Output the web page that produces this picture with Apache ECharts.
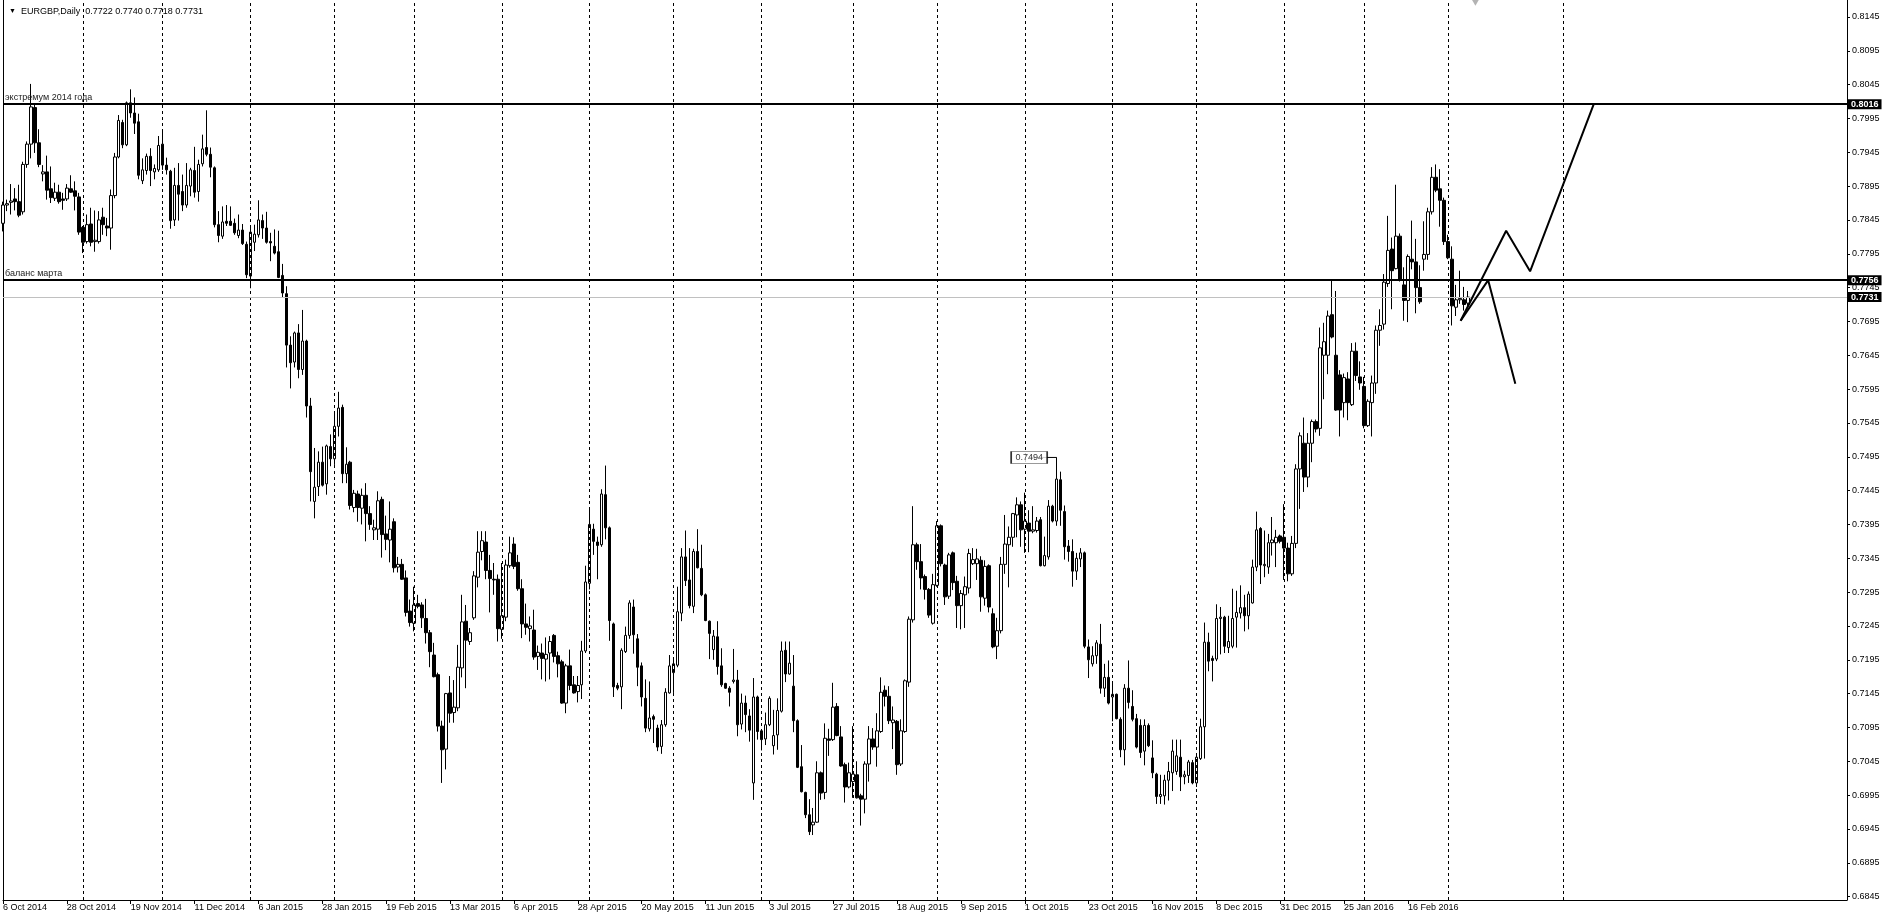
<!DOCTYPE html>
<html><head><meta charset="utf-8">
<script src="https://cdn.jsdelivr.net/npm/echarts@6/dist/echarts.min.js"></script>
<style>html,body{margin:0;padding:0;background:#fff}#c{width:1888px;height:921px}</style>
</head><body><div id="c"></div><script>
// ---- data ----
const startDate = [2014, 9, 6]; // 6 Oct 2014 (first bar)
const holidays = ['2014-12-25','2015-01-01','2015-12-25','2016-01-01'];
const barCount = 368;
const slotCount = 463;
const open = [
0.7840,0.7867,0.7871,0.7876,0.7872,0.7857,0.7927,0.7957,0.8011,0.7959,
0.7913,0.7916,0.7891,0.7877,0.7886,0.7876,0.7876,0.7891,0.7888,0.7879,
0.7834,0.7813,0.7839,0.7813,0.7813,0.7849,0.7836,0.7833,0.7881,0.7938,
0.7989,0.7956,0.8018,0.8003,0.7990,0.7903,0.7918,0.7939,0.7916,0.7919,
0.7957,0.7926,0.7917,0.7845,0.7896,0.7887,0.7867,0.7895,0.7918,0.7887,
0.7928,0.7952,0.7942,0.7922,0.7838,0.7821,0.7843,0.7843,0.7840,0.7822,
0.7830,0.7809,0.7762,0.7812,0.7823,0.7844,0.7833,0.7813,0.7806,0.7798,
0.7763,0.7736,0.7660,0.7635,0.7678,0.7624,0.7666,0.7570,0.7429,0.7451,
0.7487,0.7455,0.7510,0.7492,0.7540,0.7568,0.7470,0.7487,0.7420,0.7440,
0.7419,0.7438,0.7411,0.7387,0.7388,0.7432,0.7381,0.7372,0.7399,0.7332,
0.7336,0.7316,0.7267,0.7249,0.7278,0.7276,0.7256,0.7235,0.7202,0.7173,
0.7097,0.7063,0.7146,0.7117,0.7124,0.7183,0.7252,0.7222,0.7257,0.7317,
0.7355,0.7369,0.7327,0.7314,0.7314,0.7240,0.7258,0.7334,0.7366,0.7339,
0.7300,0.7248,0.7241,0.7239,0.7200,0.7205,0.7196,0.7205,0.7231,0.7201,
0.7192,0.7131,0.7186,0.7158,0.7148,0.7158,0.7208,0.7308,0.7388,0.7369,
0.7365,0.7439,0.7390,0.7248,0.7157,0.7155,0.7207,0.7231,0.7273,0.7226,
0.7186,0.7138,0.7093,0.7111,0.7094,0.7067,0.7099,0.7146,0.7176,0.7187,
0.7264,0.7347,0.7313,0.7274,0.7355,0.7330,0.7291,0.7252,0.7210,0.7229,
0.7186,0.7160,0.7153,0.7163,0.7165,0.7100,0.7131,0.7112,0.7013,0.7140,
0.7090,0.7078,0.7099,0.7068,0.7084,0.7119,0.7209,0.7174,0.7156,0.7105,
0.7037,0.6999,0.6966,0.6951,0.6955,0.7028,0.6999,0.7078,0.7077,0.7126,
0.7081,0.7040,0.7007,0.7015,0.7025,0.6994,0.6989,0.7041,0.7078,0.7066,
0.7089,0.7150,0.7141,0.7102,0.7104,0.7041,0.7089,0.7162,0.7254,0.7365,
0.7340,0.7318,0.7299,0.7249,0.7305,0.7393,0.7335,0.7289,0.7353,0.7311,
0.7275,0.7291,0.7301,0.7337,0.7337,0.7342,0.7286,0.7334,0.7263,0.7215,
0.7238,0.7336,0.7365,0.7376,0.7409,0.7424,0.7388,0.7397,0.7385,0.7386,
0.7402,0.7334,0.7347,0.7422,0.7400,0.7461,0.7414,0.7363,0.7355,0.7326,
0.7344,0.7353,0.7214,0.7189,0.7201,0.7218,0.7153,0.7169,0.7140,0.7144,
0.7107,0.7062,0.7153,0.7126,0.7108,0.7098,0.7060,0.7098,0.7050,0.7026,
0.6993,0.6994,0.7017,0.7028,0.7030,0.7051,0.7022,0.7024,0.7043,0.7013,
0.7049,0.7096,0.7221,0.7197,0.7196,0.7256,0.7258,0.7213,0.7215,0.7258,
0.7264,0.7272,0.7260,0.7279,0.7332,0.7389,0.7334,0.7332,0.7368,0.7368,
0.7378,0.7376,0.7360,0.7322,0.7367,0.7477,0.7515,0.7465,0.7515,0.7547,
0.7537,0.7645,0.7645,0.7705,0.7645,0.7616,0.7575,0.7610,0.7572,0.7651,
0.7613,0.7599,0.7541,0.7575,0.7604,0.7682,0.7691,0.7751,0.7802,0.7773,
0.7821,0.7749,0.7726,0.7787,0.7783,0.7745,0.7787,0.7794,0.7857,0.7908,
0.7891,0.7874,0.7813,0.7787,0.7716,0.7727,0.7727,0.7722];
const high = [
0.7872,0.7875,0.7898,0.7892,0.7897,0.7931,0.7961,0.8046,0.8016,0.7979,
0.7926,0.7940,0.7924,0.7900,0.7897,0.7885,0.7898,0.7911,0.7902,0.7885,
0.7836,0.7853,0.7863,0.7859,0.7858,0.7863,0.7848,0.7890,0.7944,0.8000,
0.7993,0.8020,0.8038,0.8026,0.8002,0.7936,0.7943,0.7951,0.7927,0.7969,
0.7976,0.7937,0.7919,0.7922,0.7929,0.7912,0.7929,0.7922,0.7953,0.7934,
0.7971,0.8007,0.7952,0.7924,0.7858,0.7865,0.7867,0.7865,0.7847,0.7853,
0.7839,0.7813,0.7834,0.7838,0.7874,0.7853,0.7857,0.7826,0.7831,0.7829,
0.7780,0.7747,0.7673,0.7680,0.7691,0.7712,0.7668,0.7582,0.7508,0.7503,
0.7510,0.7513,0.7528,0.7562,0.7591,0.7572,0.7509,0.7489,0.7446,0.7445,
0.7448,0.7456,0.7422,0.7402,0.7444,0.7436,0.7408,0.7429,0.7404,0.7347,
0.7344,0.7327,0.7284,0.7303,0.7291,0.7280,0.7285,0.7239,0.7220,0.7176,
0.7105,0.7146,0.7171,0.7165,0.7217,0.7291,0.7276,0.7242,0.7326,0.7385,
0.7385,0.7385,0.7350,0.7338,0.7321,0.7338,0.7343,0.7377,0.7376,0.7350,
0.7314,0.7278,0.7259,0.7269,0.7216,0.7219,0.7228,0.7230,0.7233,0.7207,
0.7195,0.7189,0.7210,0.7171,0.7171,0.7223,0.7334,0.7418,0.7396,0.7377,
0.7447,0.7482,0.7392,0.7250,0.7161,0.7212,0.7244,0.7283,0.7284,0.7233,
0.7191,0.7166,0.7163,0.7114,0.7099,0.7106,0.7153,0.7202,0.7198,0.7303,
0.7360,0.7386,0.7360,0.7359,0.7388,0.7365,0.7293,0.7253,0.7239,0.7252,
0.7212,0.7161,0.7156,0.7211,0.7180,0.7145,0.7142,0.7122,0.7168,0.7142,
0.7092,0.7117,0.7141,0.7121,0.7138,0.7222,0.7222,0.7222,0.7202,0.7107,
0.7069,0.7000,0.6989,0.6976,0.7045,0.7030,0.7101,0.7093,0.7161,0.7131,
0.7097,0.7043,0.7043,0.7097,0.7045,0.6997,0.7045,0.7097,0.7094,0.7116,
0.7169,0.7157,0.7156,0.7126,0.7106,0.7107,0.7166,0.7259,0.7422,0.7368,
0.7366,0.7321,0.7301,0.7322,0.7400,0.7395,0.7337,0.7353,0.7355,0.7319,
0.7298,0.7318,0.7359,0.7360,0.7359,0.7348,0.7342,0.7336,0.7271,0.7257,
0.7347,0.7409,0.7392,0.7412,0.7435,0.7429,0.7442,0.7416,0.7422,0.7406,
0.7406,0.7377,0.7431,0.7424,0.7494,0.7473,0.7423,0.7372,0.7373,0.7353,
0.7360,0.7355,0.7225,0.7215,0.7224,0.7248,0.7189,0.7194,0.7161,0.7145,
0.7110,0.7159,0.7194,0.7150,0.7115,0.7107,0.7107,0.7101,0.7076,0.7028,
0.7025,0.7025,0.7044,0.7077,0.7077,0.7077,0.7031,0.7047,0.7047,0.7053,
0.7108,0.7250,0.7235,0.7201,0.7277,0.7273,0.7260,0.7260,0.7300,0.7297,
0.7305,0.7291,0.7296,0.7343,0.7414,0.7391,0.7386,0.7381,0.7406,0.7387,
0.7380,0.7425,0.7368,0.7378,0.7484,0.7531,0.7553,0.7530,0.7550,0.7550,
0.7686,0.7693,0.7711,0.7756,0.7740,0.7623,0.7618,0.7620,0.7663,0.7664,
0.7636,0.7613,0.7580,0.7615,0.7689,0.7713,0.7765,0.7851,0.7819,0.7897,
0.7825,0.7775,0.7794,0.7844,0.7817,0.7778,0.7843,0.7863,0.7923,0.7927,
0.7920,0.7878,0.7823,0.7806,0.7749,0.7770,0.7746,0.7740];
const low = [
0.7828,0.7858,0.7853,0.7859,0.7849,0.7853,0.7922,0.7936,0.7944,0.7923,
0.7902,0.7875,0.7870,0.7873,0.7869,0.7860,0.7873,0.7885,0.7859,0.7823,
0.7796,0.7810,0.7806,0.7798,0.7810,0.7823,0.7821,0.7801,0.7877,0.7936,
0.7951,0.7954,0.7996,0.7972,0.7905,0.7898,0.7912,0.7895,0.7905,0.7916,
0.7919,0.7912,0.7832,0.7836,0.7844,0.7858,0.7863,0.7880,0.7878,0.7872,
0.7924,0.7939,0.7908,0.7834,0.7812,0.7817,0.7836,0.7836,0.7823,0.7818,
0.7808,0.7759,0.7744,0.7799,0.7819,0.7817,0.7810,0.7784,0.7794,0.7759,
0.7731,0.7627,0.7596,0.7627,0.7611,0.7616,0.7553,0.7429,0.7404,0.7437,
0.7451,0.7439,0.7481,0.7483,0.7525,0.7456,0.7456,0.7417,0.7413,0.7399,
0.7395,0.7370,0.7387,0.7372,0.7372,0.7346,0.7357,0.7339,0.7324,0.7324,
0.7313,0.7259,0.7244,0.7237,0.7271,0.7242,0.7219,0.7184,0.7169,0.7089,
0.7013,0.7033,0.7102,0.7102,0.7119,0.7169,0.7153,0.7217,0.7254,0.7302,
0.7342,0.7314,0.7265,0.7291,0.7222,0.7226,0.7252,0.7331,0.7329,0.7297,
0.7227,0.7232,0.7222,0.7195,0.7180,0.7166,0.7163,0.7166,0.7191,0.7169,
0.7130,0.7116,0.7150,0.7145,0.7132,0.7137,0.7205,0.7299,0.7350,0.7314,
0.7362,0.7373,0.7223,0.7140,0.7150,0.7122,0.7205,0.7226,0.7204,0.7156,
0.7126,0.7088,0.7089,0.7072,0.7060,0.7056,0.7096,0.7145,0.7146,0.7184,
0.7252,0.7304,0.7271,0.7264,0.7330,0.7289,0.7252,0.7196,0.7195,0.7173,
0.7155,0.7152,0.7126,0.7160,0.7082,0.7092,0.7088,0.7074,0.6988,0.7077,
0.7061,0.7069,0.7097,0.7055,0.7062,0.7117,0.7162,0.7173,0.7088,0.7035,
0.6999,0.6961,0.6936,0.6936,0.6954,0.6988,0.6989,0.7053,0.7075,0.7082,
0.7037,0.6984,0.7005,0.6991,0.6990,0.6950,0.6968,0.7015,0.7062,0.7037,
0.7087,0.7126,0.7100,0.7063,0.7025,0.7038,0.7087,0.7155,0.7250,0.7328,
0.7299,0.7284,0.7257,0.7247,0.7303,0.7333,0.7276,0.7285,0.7298,0.7242,
0.7240,0.7242,0.7293,0.7335,0.7313,0.7266,0.7275,0.7265,0.7212,0.7196,
0.7234,0.7322,0.7302,0.7362,0.7376,0.7362,0.7353,0.7354,0.7382,0.7383,
0.7333,0.7333,0.7343,0.7398,0.7393,0.7393,0.7343,0.7340,0.7303,0.7313,
0.7332,0.7212,0.7168,0.7185,0.7189,0.7145,0.7140,0.7129,0.7104,0.7107,
0.7051,0.7039,0.7123,0.7104,0.7064,0.7050,0.7039,0.7066,0.7020,0.6982,
0.6982,0.6981,0.6987,0.7001,0.7025,0.7001,0.7011,0.7013,0.7011,0.7007,
0.7047,0.7049,0.7178,0.7163,0.7193,0.7203,0.7205,0.7205,0.7212,0.7213,
0.7256,0.7237,0.7240,0.7278,0.7326,0.7307,0.7317,0.7322,0.7349,0.7332,
0.7367,0.7313,0.7311,0.7319,0.7360,0.7418,0.7443,0.7450,0.7487,0.7531,
0.7526,0.7580,0.7617,0.7670,0.7563,0.7525,0.7553,0.7549,0.7570,0.7607,
0.7594,0.7537,0.7539,0.7525,0.7588,0.7659,0.7683,0.7746,0.7713,0.7772,
0.7754,0.7696,0.7694,0.7772,0.7707,0.7721,0.7770,0.7786,0.7853,0.7886,
0.7835,0.7808,0.7787,0.7689,0.7703,0.7721,0.7711,0.7718];
const close = [
0.7867,0.7869,0.7873,0.7872,0.7852,0.7927,0.7957,0.8012,0.7959,0.7927,
0.7916,0.7889,0.7878,0.7886,0.7872,0.7874,0.7892,0.7886,0.7880,0.7827,
0.7812,0.7838,0.7812,0.7815,0.7845,0.7838,0.7833,0.7881,0.7938,0.7992,
0.7956,0.8018,0.8003,0.7988,0.7911,0.7919,0.7939,0.7918,0.7921,0.7955,
0.7926,0.7919,0.7844,0.7896,0.7883,0.7867,0.7896,0.7919,0.7886,0.7927,
0.7950,0.7942,0.7923,0.7838,0.7822,0.7842,0.7840,0.7837,0.7826,0.7830,
0.7810,0.7764,0.7827,0.7824,0.7845,0.7833,0.7812,0.7811,0.7796,0.7760,
0.7737,0.7660,0.7634,0.7678,0.7624,0.7666,0.7570,0.7473,0.7450,0.7487,
0.7453,0.7511,0.7492,0.7540,0.7567,0.7470,0.7484,0.7423,0.7441,0.7420,
0.7438,0.7411,0.7395,0.7390,0.7430,0.7380,0.7373,0.7388,0.7331,0.7336,
0.7314,0.7265,0.7250,0.7276,0.7274,0.7257,0.7235,0.7207,0.7170,0.7097,
0.7062,0.7145,0.7116,0.7125,0.7184,0.7251,0.7224,0.7235,0.7319,0.7354,
0.7371,0.7327,0.7315,0.7313,0.7241,0.7260,0.7335,0.7353,0.7333,0.7300,
0.7248,0.7243,0.7245,0.7199,0.7206,0.7197,0.7203,0.7222,0.7200,0.7189,
0.7131,0.7186,0.7157,0.7146,0.7157,0.7208,0.7310,0.7395,0.7370,0.7364,
0.7440,0.7390,0.7253,0.7155,0.7153,0.7209,0.7231,0.7279,0.7232,0.7184,
0.7140,0.7094,0.7109,0.7107,0.7066,0.7099,0.7147,0.7186,0.7189,0.7266,
0.7347,0.7312,0.7275,0.7355,0.7331,0.7291,0.7253,0.7234,0.7230,0.7185,
0.7158,0.7153,0.7147,0.7165,0.7099,0.7131,0.7114,0.7091,0.7140,0.7089,
0.7077,0.7099,0.7138,0.7083,0.7120,0.7208,0.7174,0.7190,0.7105,0.7036,
0.7000,0.6966,0.6941,0.6955,0.7028,0.6998,0.7079,0.7076,0.7125,0.7083,
0.7038,0.7007,0.7028,0.7026,0.6991,0.6989,0.7041,0.7078,0.7066,0.7090,
0.7147,0.7141,0.7105,0.7106,0.7040,0.7090,0.7164,0.7255,0.7365,0.7340,
0.7316,0.7299,0.7261,0.7306,0.7393,0.7337,0.7288,0.7350,0.7309,0.7275,
0.7293,0.7303,0.7352,0.7343,0.7344,0.7288,0.7333,0.7273,0.7214,0.7238,
0.7336,0.7366,0.7376,0.7411,0.7424,0.7387,0.7400,0.7385,0.7387,0.7400,
0.7334,0.7349,0.7422,0.7400,0.7462,0.7416,0.7362,0.7355,0.7326,0.7345,
0.7353,0.7215,0.7195,0.7201,0.7220,0.7153,0.7169,0.7131,0.7144,0.7108,
0.7062,0.7153,0.7132,0.7107,0.7066,0.7058,0.7098,0.7068,0.7028,0.6993,
0.6996,0.7017,0.7030,0.7060,0.7053,0.7022,0.7025,0.7044,0.7013,0.7051,
0.7096,0.7221,0.7193,0.7194,0.7256,0.7258,0.7215,0.7222,0.7256,0.7265,
0.7272,0.7260,0.7292,0.7332,0.7387,0.7335,0.7336,0.7368,0.7372,0.7376,
0.7370,0.7360,0.7322,0.7367,0.7477,0.7526,0.7465,0.7515,0.7547,0.7536,
0.7656,0.7665,0.7703,0.7672,0.7564,0.7564,0.7612,0.7575,0.7651,0.7615,
0.7604,0.7541,0.7577,0.7604,0.7682,0.7689,0.7753,0.7800,0.7770,0.7821,
0.7756,0.7726,0.7791,0.7783,0.7745,0.7724,0.7794,0.7857,0.7908,0.7889,
0.7874,0.7813,0.7789,0.7718,0.7727,0.7729,0.7720,0.7731];
const yTicks = [0.6845,0.6895,0.6945,0.6995,0.7045,0.7095,0.7145,0.7195,0.7245,0.7295,
  0.7345,0.7395,0.7445,0.7495,0.7545,0.7595,0.7645,0.7695,0.7745,0.7795,
  0.7845,0.7895,0.7945,0.7995,0.8045,0.8095,0.8145];
const levelValues = [0.8016, 0.7756];
const levelNames = ['экстремум 2014 года', 'баланс марта'];
const bidPrice = 0.7731;
const titleSymbol = 'EURGBP,Daily';
const titleValues = ['0.7722','0.7740','0.7718','0.7731'];
const scenarioUp = [[365.2,0.7696],[376.6,0.7829],[382.6,0.7769],[398.6,0.8017]];
const scenarioDown = [[365.2,0.7696],[372.1,0.7756],[378.9,0.7603]];
const priceTag = {x: 257.1, value: 0.7494, bar: 264};
const futureSeparatorIndex = 391;
const shiftMarker = [[368.9, 0.8166]];

// ---- categories (trading days) ----
const monthNames = ['Jan','Feb','Mar','Apr','May','Jun','Jul','Aug','Sep','Oct','Nov','Dec'];
const dates = [], monthKey = [];
{
  const d = new Date(Date.UTC(startDate[0], startDate[1], startDate[2]));
  while (dates.length < slotCount) {
    const wd = d.getUTCDay(), iso = d.toISOString().slice(0, 10);
    if (wd !== 0 && wd !== 6 && !holidays.includes(iso)) {
      dates.push(d.getUTCDate() + ' ' + monthNames[d.getUTCMonth()] + ' ' + d.getUTCFullYear());
      monthKey.push(d.getUTCFullYear() * 12 + d.getUTCMonth());
    }
    d.setUTCDate(d.getUTCDate() + 1);
  }
}
const separators = [];
for (let i = 1; i < barCount; i++) if (monthKey[i] !== monthKey[i - 1]) separators.push(i);
separators.push(futureSeparatorIndex);

const candleData = open.map((o, i) => [o, close[i], low[i], high[i]]);
const FONT = 'Liberation Sans, Arial, sans-serif';
const FS = 9;
const showLabel = (i) => i < barCount && i % 16 === 0;

const boxLabel = (txt) => ({
  show: true, position: 'end', formatter: txt, distance: 1,
  backgroundColor: '#000', color: '#fff', fontWeight: 'bold', fontSize: FS, fontFamily: FONT,
  padding: [1, 3, 0, 3]
});

const markData = [];
separators.forEach(i => markData.push({
  xAxis: i, lineStyle: {color: '#000', width: 1, type: [3, 3]}, label: {show: false}
}));
markData.push({yAxis: bidPrice, lineStyle: {color: '#c0c0c0', width: 1, type: 'solid'}, label: boxLabel(bidPrice.toFixed(4))});
levelValues.forEach((v, k) => {
  markData.push({yAxis: v, lineStyle: {color: '#000', width: 2, type: 'solid'},
    label: {show: true, position: 'insideStartTop', formatter: levelNames[k], distance: [2, 2],
      color: '#222', fontSize: FS, fontFamily: FONT}});
  markData.push({yAxis: v, lineStyle: {color: '#000', width: 2, type: 'solid'}, label: boxLabel(v.toFixed(4))});
});

const chart = echarts.init(document.getElementById('c'), null, {renderer: 'canvas'});
chart.setOption({
  animation: false,
  backgroundColor: '#fff',
  title: {
    text: '{t|▼}  ' + titleSymbol + '  ' + titleValues.join(' '),
    left: 4, top: 2,
    textStyle: {fontSize: FS, fontWeight: 'normal', color: '#000', fontFamily: FONT,
      rich: {t: {fontSize: 7, color: '#000', fontFamily: FONT}}}
  },
  grid: {left: 1, right: 41, top: 0, bottom: 21, containLabel: false},
  xAxis: [{
    type: 'category', data: dates, boundaryGap: false,
    axisLine: {show: true, onZero: false, lineStyle: {color: '#000', width: 1}},
    axisTick: {show: true, interval: showLabel, length: 4, lineStyle: {color: '#000'}},
    axisLabel: {interval: showLabel, align: 'left', margin: 3, fontSize: FS, color: '#000', fontFamily: FONT},
    splitLine: {show: false}
  }, {
    type: 'value', min: 0, max: slotCount - 1, show: false
  }],
  yAxis: [{
    type: 'value', position: 'right', min: 0.684, max: 0.817, scale: true,
    axisLine: {show: true, onZero: false, lineStyle: {color: '#000', width: 1}},
    axisTick: {show: true, customValues: yTicks, length: 3, lineStyle: {color: '#000'}},
    axisLabel: {customValues: yTicks, formatter: v => v.toFixed(4), margin: 5, fontSize: FS, color: '#000', fontFamily: FONT},
    splitLine: {show: false}
  }, {
    type: 'value', position: 'left', min: 0.684, max: 0.817,
    axisLine: {show: true, onZero: false, lineStyle: {color: '#000', width: 1}},
    axisTick: {show: false}, axisLabel: {show: false}, splitLine: {show: false}
  }],
  series: [{
    type: 'line', xAxisIndex: 1, yAxisIndex: 0, data: [], silent: true, z: 1,
    markLine: {silent: true, precision: 4, symbol: ['none', 'none'], animation: false, data: markData}
  }, {
    type: 'candlestick', xAxisIndex: 0, yAxisIndex: 0,
    data: candleData, barWidth: 3, z: 3,
    itemStyle: {color: '#ffffff', color0: '#000000', borderColor: '#000000', borderColor0: '#000000', borderWidth: 1},
    emphasis: {disabled: true}
  }, {
    type: 'line', xAxisIndex: 1, yAxisIndex: 0, data: scenarioUp, symbol: 'none',
    lineStyle: {color: '#000', width: 2}, z: 5, silent: true
  }, {
    type: 'line', xAxisIndex: 1, yAxisIndex: 0, data: scenarioDown, symbol: 'none',
    lineStyle: {color: '#000', width: 2}, z: 5, silent: true
  }, {
    type: 'line', xAxisIndex: 1, yAxisIndex: 0,
    data: [[priceTag.x, priceTag.value], [priceTag.bar, priceTag.value]], symbol: 'none',
    lineStyle: {color: '#000', width: 1}, z: 5, silent: true
  }, {
    type: 'scatter', xAxisIndex: 1, yAxisIndex: 0,
    data: [[priceTag.x, priceTag.value]], symbol: 'rect', symbolSize: [36, 12],
    itemStyle: {color: '#fff', borderColor: '#000', borderWidth: 1}, z: 6, silent: true,
    label: {show: true, position: 'inside', formatter: priceTag.value.toFixed(4), color: '#000', fontSize: FS, fontFamily: FONT}
  }, {
    type: 'scatter', xAxisIndex: 1, yAxisIndex: 0, data: shiftMarker,
    symbol: 'triangle', symbolRotate: 180, symbolSize: [7, 6],
    itemStyle: {color: '#a0a0a0'}, z: 6, silent: true
  }]
});
</script></body></html>
